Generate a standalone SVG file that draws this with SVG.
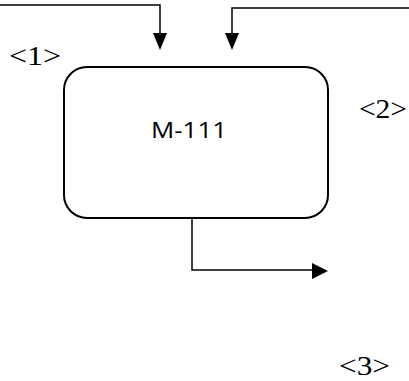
<svg xmlns="http://www.w3.org/2000/svg" width="409" height="381" viewBox="0 0 409 381">
<defs>
<style>
.c{fill:none;stroke:#000;stroke-width:1.5}
.ah{fill:#000;stroke:none}
.lbl{font-family:"Liberation Serif",serif;font-size:27px;fill:#000}
.box{fill:#fff;stroke:#000;stroke-width:2}
.t{font-family:"Open Sans",sans-serif;font-size:21px;fill:#000}
</style>
</defs>
<rect width="409" height="381" fill="#fff"/>
<g id="connectors">
<polyline class="c" points="0,5 160,5 160,36"/>
<polygon class="ah" points="153,33 167,33 160,50"/>
<polyline class="c" points="409,8 232,8 232,36"/>
<polygon class="ah" points="225,33 239,33 232,50"/>
<polyline class="c" points="192,218 192,270 315,270"/>
<polygon class="ah" points="312,263 312,279 328,271"/>
</g>
<g id="M-111">
<rect class="box" x="64" y="67" width="264" height="151" rx="23" ry="23"/>
<text class="t" x="189" y="138" text-anchor="middle" textLength="76" lengthAdjust="spacingAndGlyphs">M-111</text>
</g>
<g id="label1"><text class="lbl" x="9" y="65" textLength="52" lengthAdjust="spacingAndGlyphs">&lt;1&gt;</text></g>
<g id="label2"><text class="lbl" x="359" y="118" textLength="48" lengthAdjust="spacingAndGlyphs">&lt;2&gt;</text></g>
<g id="label3"><text class="lbl" x="339" y="375" textLength="51" lengthAdjust="spacingAndGlyphs">&lt;3&gt;</text></g>
</svg>
